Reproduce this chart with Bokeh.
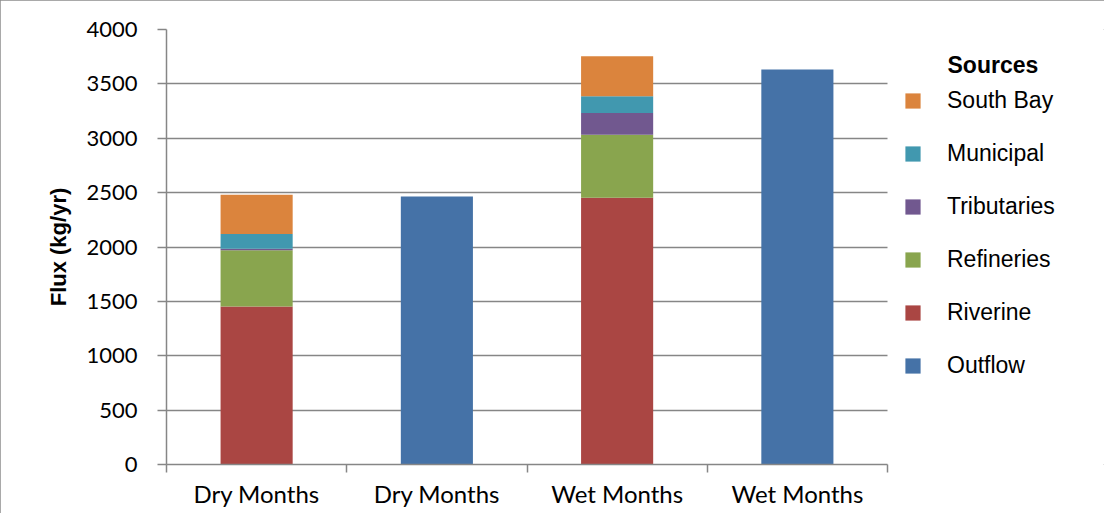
from bokeh.plotting import figure
from bokeh.models import ColumnDataSource, FixedTicker, Legend, LegendItem, Label
from bokeh.embed import file_html
from bokeh.resources import INLINE

# ---- data ----
categories = ["Dry Months", "Dry Months", "Wet Months", "Wet Months"]
riverine = [1452, 0, 2453, 0]
refineries = [519, 0, 580, 0]
tributaries = [12, 0, 200, 0]
municipal = [136, 0, 153, 0]
south_bay = [362, 0, 368, 0]
outflow = [0, 2465, 0, 3632]
series_names = ["Outflow", "Riverine", "Refineries", "Tributaries", "Municipal", "South Bay"]
series_colors = ["#4572A7", "#AA4643", "#89A54E", "#71588F", "#4198AF", "#DB843D"]
y_ticks = [0, 500, 1000, 1500, 2000, 2500, 3000, 3500, 4000]
legend_title = "Sources"

n_cat = len(categories)
x_pos = [i + 0.5 for i in range(n_cat)]
source = ColumnDataSource(dict(
    x=x_pos,
    Outflow=outflow, Riverine=riverine, Refineries=refineries,
    Tributaries=tributaries, Municipal=municipal, **{"South Bay": south_bay},
))

# layout (pixels)
W, H = 1104, 513
LEFT, TOP, BOTTOM = 166, 29, 49
PLOT_W = 721                       # width of the category area
frame_w = W - LEFT
frame_h = H - TOP - BOTTOM
x_end = n_cat * frame_w / PLOT_W   # extra room on the right holds the legend

p = figure(width=W, height=H, output_backend="svg", toolbar_location=None,
           x_range=(0, x_end), y_range=(0, 4000),
           min_border_left=LEFT, min_border_right=0, min_border_top=TOP,
           min_border_bottom=BOTTOM)
p.styles = {"outline": "1px solid #8c8c8c", "outline-offset": "-1px"}
p.outline_line_color = None
p.background_fill_color = "white"
p.border_fill_color = "white"

renderers = p.vbar_stack(series_names, x="x", width=0.4, source=source,
                         color=series_colors, line_color=None)

GRAY = "#868686"
# grid
p.xgrid.grid_line_color = None
p.ygrid.grid_line_color = GRAY
p.ygrid.grid_line_width = 1.5
p.ygrid.ticker = FixedTicker(ticks=y_ticks)
p.ygrid.cross_bounds = (0, n_cat)

# y axis
p.yaxis.ticker = FixedTicker(ticks=y_ticks)
p.yaxis.axis_label = "Flux (kg/yr)"
p.yaxis.axis_label_text_font = "Liberation Sans"
p.yaxis.axis_label_text_font_style = "bold"
p.yaxis.axis_label_text_font_size = "22px"
p.yaxis.axis_label_text_color = "black"
p.yaxis.axis_label_standoff = 12
p.yaxis.major_label_text_font = "Lato"
p.yaxis.major_label_text_font_size = "22px"
p.yaxis.major_label_text_color = "black"
p.yaxis.major_label_standoff = 20
p.yaxis.major_tick_out = 9
p.yaxis.major_tick_in = 0
p.yaxis.minor_tick_line_color = None
p.yaxis.axis_line_color = GRAY
p.yaxis.axis_line_width = 1.5
p.yaxis.major_tick_line_color = GRAY
p.yaxis.major_tick_line_width = 1.5

# x axis
p.xaxis.bounds = (0, n_cat)
p.xaxis.ticker = FixedTicker(ticks=x_pos, minor_ticks=list(range(n_cat + 1)))
p.xaxis.major_label_overrides = {x: c for x, c in zip(x_pos, categories)}
p.xaxis.major_label_text_font = "Lato"
p.xaxis.major_label_text_font_size = "24px"
p.xaxis.major_label_text_color = "black"
p.xaxis.major_label_standoff = 6
p.xaxis.major_tick_line_color = None
p.xaxis.major_tick_out = 0
p.xaxis.major_tick_in = 0
p.xaxis.minor_tick_out = 8
p.xaxis.minor_tick_in = 0
p.xaxis.minor_tick_line_color = GRAY
p.xaxis.minor_tick_line_width = 1.5
p.xaxis.axis_line_color = GRAY
p.xaxis.axis_line_width = 1.5

# legend
items = [LegendItem(label=n, renderers=[r]) for n, r in zip(series_names, renderers)][::-1]
legend = Legend(items=items, location=(737, 85),
                label_text_font="Liberation Sans", label_text_font_size="23px",
                label_text_color="black", label_standoff=25,
                glyph_width=19, glyph_height=19, label_height=15,
                spacing=26, padding=0, margin=0,
                border_line_color=None, background_fill_alpha=0)
p.add_layout(legend, "center")

# legend heading, aligned with the legend labels
p.add_layout(Label(x=781, y=frame_h - 35.5, x_units="screen", y_units="screen",
                   text=legend_title, text_font="Liberation Sans",
                   text_font_style="bold", text_font_size="23px",
                   text_color="black", text_baseline="middle", text_align="left"))

open("out.html", "w").write(file_html(p, INLINE))
